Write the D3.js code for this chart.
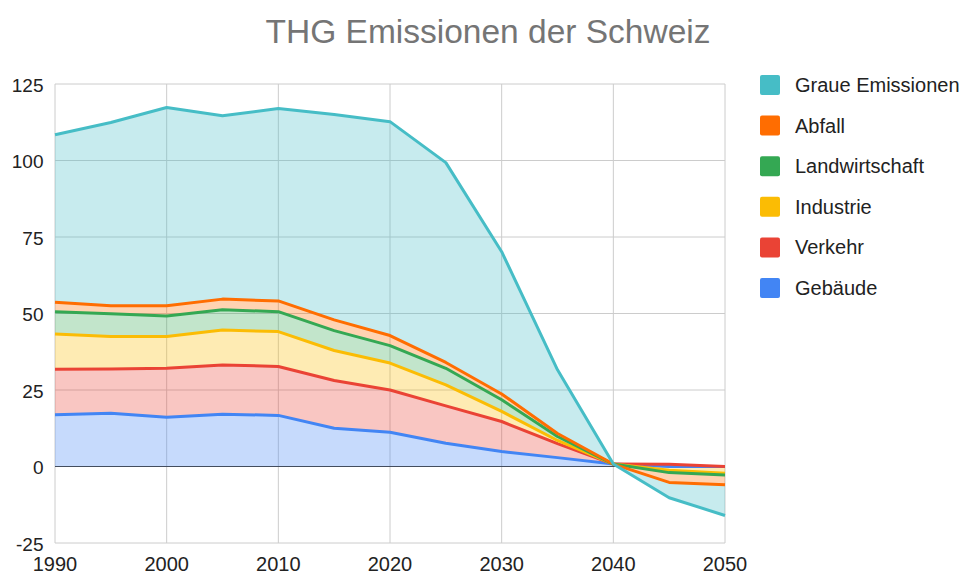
<!DOCTYPE html>
<html>
<head>
<meta charset="utf-8">
<script src="https://cdn.jsdelivr.net/npm/d3@7"></script>
<style>
  body { margin: 0; background: #fff; }
  svg { font-family: "Liberation Sans", Arial, sans-serif; }
</style>
</head>
<body>
<div id="chart"></div>
<script>
const years = [1990, 1995, 2000, 2005, 2010, 2015, 2020, 2025, 2030, 2035, 2040, 2045, 2050];
const gebaeude = [16.9, 17.4, 16.1, 17.1, 16.7, 12.5, 11.2, 7.6, 4.9, 2.9, 0.8, 0, 0];
const verkehr = [14.9, 14.5, 16.0, 16.1, 16.0, 15.6, 13.8, 12.2, 9.8, 4.6, 0, 0.7, 0];
const industrie = [11.5, 10.6, 10.4, 11.4, 11.4, 9.8, 8.8, 6.9, 3.3, 1.0, 0, -1.9, -2.2];
const landwirtschaft = [7.3, 7.4, 6.7, 6.6, 6.5, 6.5, 5.7, 5.4, 3.8, 1.3, 0, -0.8, -0.6];
const abfall = [3.1, 2.6, 3.3, 3.5, 3.5, 3.5, 3.3, 1.9, 1.9, 1.0, 0, -3.2, -3.2];
const graue = [54.7, 59.9, 64.8, 59.9, 62.9, 67.1, 69.9, 65.3, 46.5, 20.8, 0, -5, -10];

const seriesNames = ["Gebäude", "Verkehr", "Industrie", "Landwirtschaft", "Abfall", "Graue Emissionen"];
const seriesValues = [gebaeude, verkehr, industrie, landwirtschaft, abfall, graue];
const colors = ["#4285f4", "#ea4335", "#fbbc04", "#34a853", "#ff6d01", "#46bdc6"];
const yTicks = [-25, 0, 25, 50, 75, 100, 125];
const xTicks = [1990, 2000, 2010, 2020, 2030, 2040, 2050];

const width = 965, height = 573;
const svg = d3.select('#chart').append('svg')
    .attr('width', width)
    .attr('height', height);

const x = d3.scaleLinear().domain([1990, 2050]).range([55, 725]);
const y = d3.scaleLinear().domain([-25, 125]).range([543, 84]);

// title
svg.append('text')
    .attr('x', 488)
    .attr('y', 43)
    .attr('text-anchor', 'middle')
    .attr('fill', '#757575')
    .style('font-size', '33.5px')
    .text('THG Emissionen der Schweiz');

// grid
const grid = svg.append('g');
yTicks.forEach(t => {
    grid.append('line')
        .attr('x1', x(1990)).attr('x2', x(2050))
        .attr('y1', y(t)).attr('y2', y(t))
        .attr('stroke', '#cccccc')
        .attr('stroke-width', 1);
    svg.append('text')
        .attr('x', 43.5)
        .attr('y', y(t) + 1)
        .attr('dy', '0.35em')
        .attr('text-anchor', 'end')
        .attr('fill', '#222')
        .style('font-size', '19px')
        .text(t);
});
xTicks.forEach(t => {
    grid.append('line')
        .attr('x1', x(t)).attr('x2', x(t))
        .attr('y1', y(125)).attr('y2', y(-25))
        .attr('stroke', '#cccccc')
        .attr('stroke-width', 1);
    svg.append('text')
        .attr('x', x(t))
        .attr('y', 571)
        .attr('text-anchor', 'middle')
        .attr('fill', '#222')
        .style('font-size', '20px')
        .text(t);
});
grid.append('line')
    .attr('x1', x(1990)).attr('x2', x(2050))
    .attr('y1', y(0)).attr('y2', y(0))
    .attr('stroke', '#444')
    .attr('stroke-width', 1);

// stacked data
const table = years.map((yr, i) => {
    const row = { year: yr };
    seriesNames.forEach((n, k) => { row[n] = seriesValues[k][i]; });
    return row;
});
const stacked = d3.stack()
    .keys(seriesNames)
    .offset(d3.stackOffsetNone)(table);

const area = d3.area()
    .x(d => x(d.data.year))
    .y0(d => y(d[0]))
    .y1(d => y(d[1]));
const line = d3.line()
    .x(d => x(d.data.year))
    .y(d => y(d[1]));

svg.append('g').selectAll('path')
    .data(stacked)
    .join('path')
    .attr('d', area)
    .attr('fill', (d, i) => colors[i])
    .attr('fill-opacity', 0.3);

svg.append('g').selectAll('path')
    .data(stacked)
    .join('path')
    .attr('d', line)
    .attr('fill', 'none')
    .attr('stroke', (d, i) => colors[i])
    .attr('stroke-width', 3)
    .attr('stroke-linejoin', 'round');

// legend (top = last series)
const legend = svg.append('g');
seriesNames.slice().reverse().forEach((n, i) => {
    const k = seriesNames.length - 1 - i;
    const ly = 85 + i * 40.6;
    legend.append('rect')
        .attr('x', 760)
        .attr('y', ly - 10)
        .attr('width', 20)
        .attr('height', 20)
        .attr('rx', 2)
        .attr('fill', colors[k]);
    legend.append('text')
        .attr('x', 795)
        .attr('y', ly)
        .attr('dy', '0.35em')
        .attr('fill', '#222')
        .style('font-size', '20px')
        .text(n);
});
</script>
</body>
</html>
